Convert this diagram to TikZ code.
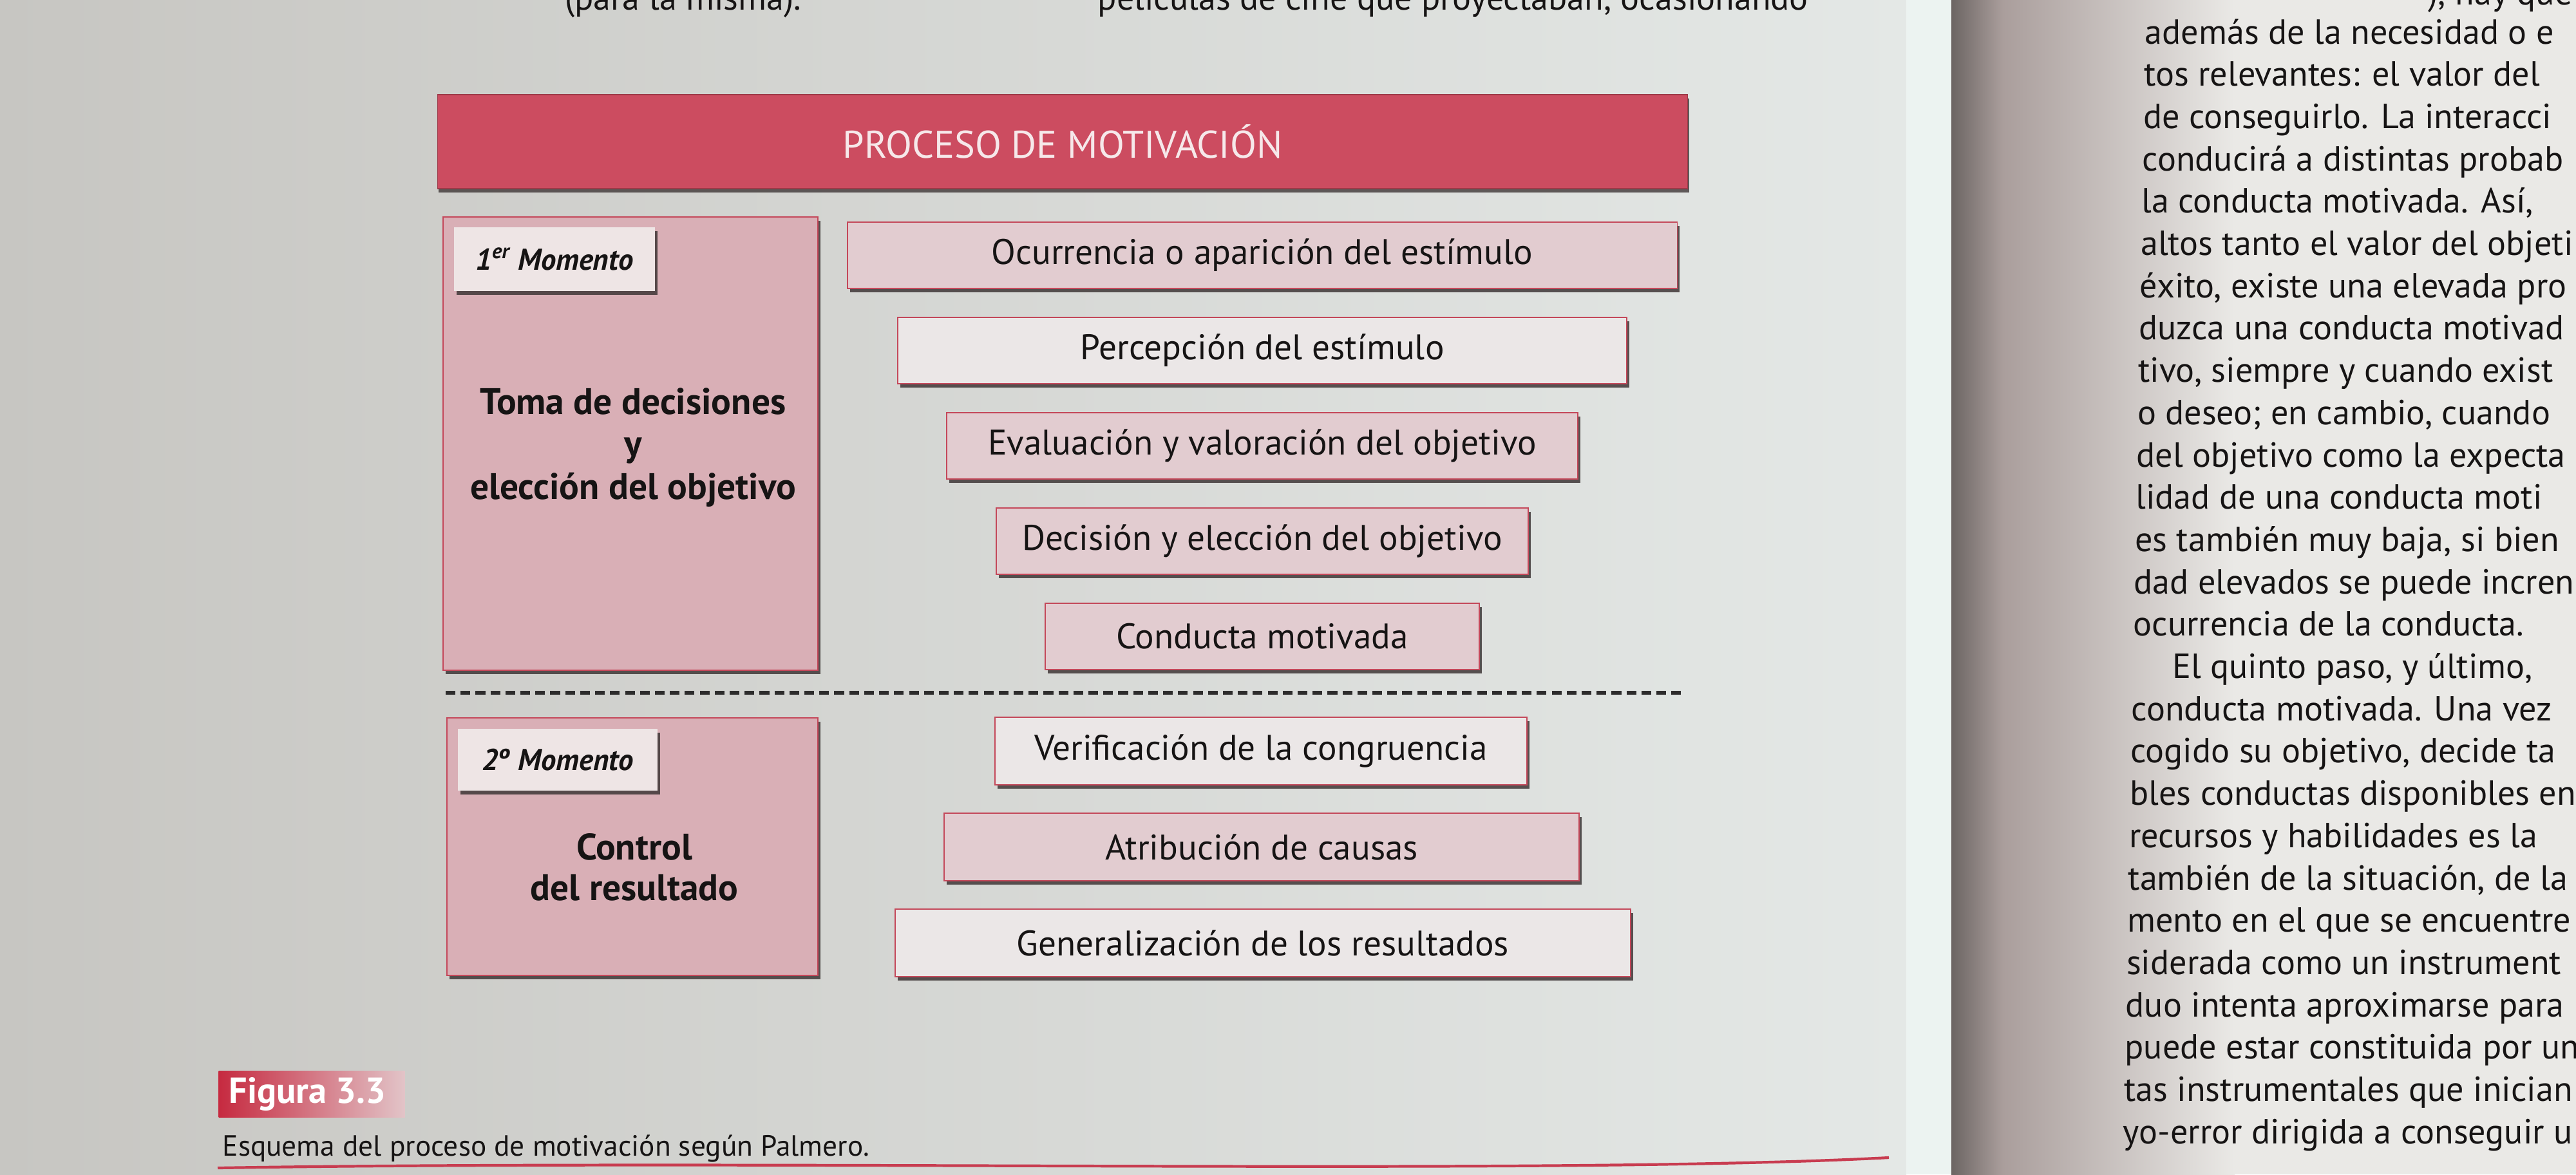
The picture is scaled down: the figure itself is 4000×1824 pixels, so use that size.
\documentclass[tikz,border=0pt]{standalone}
\usepackage{fontspec}
\setmainfont{PT Sans}
\usetikzlibrary{shadows}
\definecolor{titlered}{RGB}{204,76,96}
\definecolor{titletext}{RGB}{246,232,234}
\definecolor{panelpink}{RGB}{217,175,182}
\definecolor{boxpink}{RGB}{226,204,208}
\definecolor{boxlight}{RGB}{235,231,231}
\definecolor{labelfill}{RGB}{238,229,229}
\definecolor{edgered}{RGB}{196,72,90}
\definecolor{ink}{RGB}{22,20,20}
\definecolor{shadowc}{RGB}{62,54,54}
\definecolor{pageL}{RGB}{199,198,194}
\definecolor{pageR}{RGB}{228,232,230}
\definecolor{edgewhite}{RGB}{236,243,241}
\definecolor{gutterdark}{RGB}{108,101,99}
\definecolor{gutterfade}{RGB}{170,158,156}
\definecolor{pageright}{RGB}{234,233,230}
\definecolor{figred}{RGB}{198,42,64}
\definecolor{figfade}{RGB}{226,196,200}
\definecolor{rulered}{RGB}{200,60,80}
\newcommand\rcline[3]{\node[bodytext, anchor=base west] (r#1) at ({3330-1.3*#1+#3},{68+65.7*#1}) {#2};}
\begin{document}
\begin{tikzpicture}[x=0.01cm, y=-0.01cm,
  boxshadow/.style={drop shadow={shadow xshift=0.04cm, shadow yshift=-0.06cm, fill=shadowc, opacity=0.85}},
  stepbox/.style={draw=edgered, line width=0.5pt, inner sep=0pt, boxshadow,
    font=\fontsize{15.7pt}{18pt}\selectfont, text=ink},
  pinkstep/.style={stepbox, fill=boxpink},
  lightstep/.style={stepbox, fill=boxlight},
  panel/.style={draw=edgered, line width=0.5pt, fill=panelpink, inner sep=0pt, boxshadow},
  labelbox/.style={fill=labelfill, inner sep=0pt, boxshadow,
    font=\fontsize{13.3pt}{15pt}\selectfont\bfseries\itshape, text=ink},
  paneltext/.style={anchor=base, font=\fontsize{16.3pt}{19pt}\selectfont\bfseries, text=ink, inner sep=0pt},
  titlebar/.style={fill=titlered, draw=edgered!80!black, line width=0.4pt, inner sep=0pt,
    drop shadow={shadow xshift=0.02cm, shadow yshift=-0.06cm, fill=shadowc, opacity=0.8},
    font=\fontsize{17pt}{20pt}\selectfont, text=titletext},
  sepline/.style={draw=ink!90, line width=1.7pt, dash pattern=on 4.3pt off 2.3pt},
  bodytext/.style={font=\fontsize{15.4pt}{18pt}\selectfont, text=ink, inner sep=0pt},
  captext/.style={font=\fontsize{12.9pt}{15pt}\selectfont, text=ink, inner sep=0pt},
  figtext/.style={font=\fontsize{16pt}{18pt}\selectfont\bfseries, text=white, inner sep=0pt},
  redrule/.style={draw=rulered, line width=1.2pt}
]
\useasboundingbox (0,0) rectangle (4000,1824);
\clip (0,0) rectangle (4000,1824);
% page background
\shade[left color=pageL, right color=pageR] (0,0) rectangle (2960,1824);
\fill[edgewhite] (2960,0) rectangle (3030,1824);
\shade[left color=gutterdark, right color=gutterfade] (3030,0) rectangle (3110,1824);
\shade[left color=gutterfade, right color=pageright] (3110,0) rectangle (3470,1824);
\fill[pageright] (3470,0) rectangle (4000,1824);

% cut-off lines at the top of the left page
\node[bodytext, anchor=base east] (tl1) at (1245,15) {(para la misma).};
\node[bodytext, anchor=base west] (tl2) at (1704,15) {películas de cine que proyectaban, ocasionando};

% title
\node[titlebar, minimum width=19.40cm, minimum height=1.46cm] (title) at (1650,220) {PROCESO DE MOTIVACIÓN};

% left panels
\node[panel, minimum width=5.82cm, minimum height=7.04cm] (p1) at (979,689) {};
\node[panel, minimum width=5.76cm, minimum height=4.00cm] (p2) at (982,1315) {};
\node[labelbox, minimum width=3.12cm, minimum height=0.99cm] (m1) at (861,402.5) {1\textsuperscript{er} Momento};
\node[labelbox, minimum width=3.09cm, minimum height=0.95cm] (m2) at (866,1180) {2º Momento};
\node[paneltext] (t1a) at (983,643) {Toma de decisiones};
\node[paneltext] (t1b) at (983,708) {y};
\node[paneltext] (t1c) at (983,775) {elección del objetivo};
\node[paneltext] (t2a) at (985,1335) {Control};
\node[paneltext] (t2b) at (985,1398) {del resultado};

% step boxes
\node[pinkstep,  minimum width=12.88cm, minimum height=1.03cm] (s1) at (1960,396.5) {Ocurrencia o aparición del estímulo};
\node[lightstep, minimum width=11.32cm, minimum height=1.03cm] (s2) at (1960,544.5) {Percepción del estímulo};
\node[pinkstep,  minimum width=9.80cm,  minimum height=1.03cm] (s3) at (1960,692.5) {Evaluación y valoración del objetivo};
\node[pinkstep,  minimum width=8.26cm,  minimum height=1.03cm] (s4) at (1960,840.5) {Decisión y elección del objetivo};
\node[pinkstep,  minimum width=6.74cm,  minimum height=1.03cm] (s5) at (1960,988.5) {Conducta motivada};
\node[lightstep, minimum width=8.26cm,  minimum height=1.05cm] (s6) at (1958,1166.5) {Verificación de la congruencia};
\node[pinkstep,  minimum width=9.86cm,  minimum height=1.05cm] (s7) at (1959,1315.5) {Atribución de causas};
\node[lightstep, minimum width=11.42cm, minimum height=1.05cm] (s8) at (1961,1464.5) {Generalización de los resultados};

% dashed separator
\coordinate (dl) at (692,1076);
\coordinate (dr) at (2618,1076);
\draw[sepline] (dl) -- (dr);

% figure label and caption
\node[shade, left color=figred, right color=figfade, inner sep=0pt, minimum width=2.89cm, minimum height=0.72cm, anchor=north west] (figbar) at (339,1663) {};
\node[figtext, anchor=west] (figlab) at (355,1699) {Figura 3.3};
\node[captext, anchor=base west] (cap) at (345,1795) {Esquema del proceso de motivación según Palmero.};
\coordinate (rl) at (338,1814);
\coordinate (rc1) at (1200,1800);
\coordinate (rc2) at (2400,1826);
\coordinate (rr) at (2933,1798);
\draw[redrule] (rl) .. controls (rc1) and (rc2) .. (rr);

% right page text
\node[bodytext, anchor=base west] (rtop) at (3770,8) {), hay que};
\rcline{0}{además de la necesidad o e}{0}
\rcline{1}{tos relevantes: el valor del}{0}
\rcline{2}{de conseguirlo. La interacci}{0}
\rcline{3}{conducirá a distintas probab}{0}
\rcline{4}{la conducta motivada. Así,}{0}
\rcline{5}{altos tanto el valor del objeti}{0}
\rcline{6}{éxito, existe una elevada pro}{0}
\rcline{7}{duzca una conducta motivad}{0}
\rcline{8}{tivo, siempre y cuando exist}{0}
\rcline{9}{o deseo; en cambio, cuando}{0}
\rcline{10}{del objetivo como la expecta}{0}
\rcline{11}{lidad de una conducta moti}{0}
\rcline{12}{es también muy baja, si bien}{0}
\rcline{13}{dad elevados se puede incren}{0}
\rcline{14}{ocurrencia de la conducta.}{0}
\rcline{15}{El quinto paso, y último,}{62}
\rcline{16}{conducta motivada. Una vez}{0}
\rcline{17}{cogido su objetivo, decide ta}{0}
\rcline{18}{bles conductas disponibles en}{0}
\rcline{19}{recursos y habilidades es la}{0}
\rcline{20}{también de la situación, de la}{0}
\rcline{21}{mento en el que se encuentre}{0}
\rcline{22}{siderada como un instrument}{0}
\rcline{23}{duo intenta aproximarse para}{0}
\rcline{24}{puede estar constituida por un}{0}
\rcline{25}{tas instrumentales que inician}{0}
\rcline{26}{yo-error dirigida a conseguir u}{0}
\end{tikzpicture}
\end{document}
